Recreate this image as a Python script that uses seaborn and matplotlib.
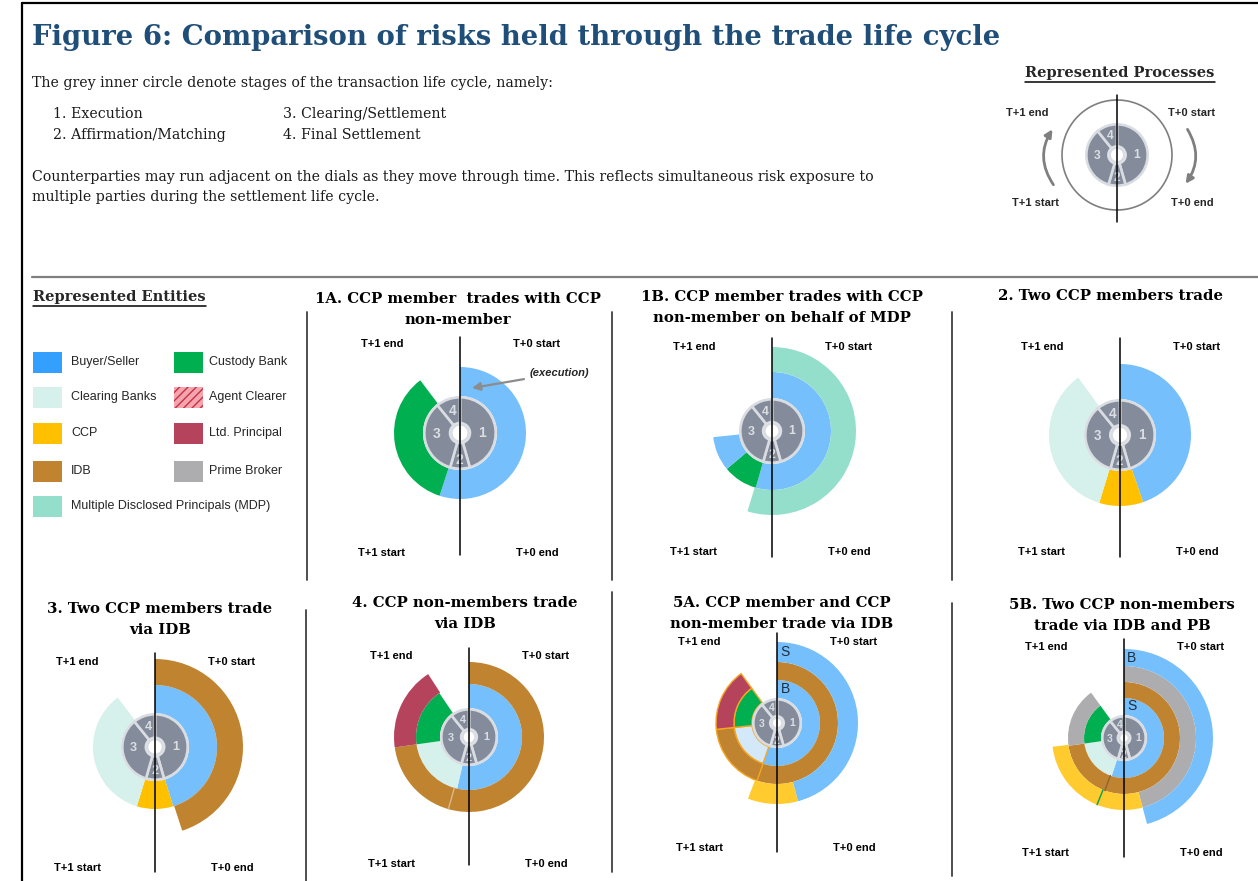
"""
Figure 6 - risk dials through the trade life cycle
"""

import numpy as np
import matplotlib
matplotlib.use('Agg')
import matplotlib.pyplot as plt
from matplotlib.patches import Rectangle, FancyArrowPatch
import seaborn as sns

W, H = 1258, 881

# inner grey dial: stages of the life cycle (degrees clockwise from top)
STAGE_LABELS = ['1', '2', '3', '4']
STAGE_START = [0, 164, 196, 321]
STAGE_END = [164, 196, 321, 360]

LEGEND_ENTITIES = ['Buyer/Seller', 'Custody Bank', 'Clearing Banks', 'Agent Clearer',
                   'CCP', 'Ltd. Principal', 'IDB', 'Prime Broker',
                   'Multiple Disclosed Principals (MDP)']

# each panel: entity, ring (1 = innermost), start / end angle (deg)
P1A_ENTITY = ['Buyer/Seller', 'Custody Bank']
P1A_RING = [1, 1]
P1A_START = [0, 198]
P1A_END = [198, 323]

P1B_ENTITY = ['Buyer/Seller', 'Custody Bank', 'Buyer/Seller', 'MDP']
P1B_RING = [1, 1, 1, 2]
P1B_START = [0, 196, 230, 0]
P1B_END = [196, 230, 264, 197]

P2_ENTITY = ['Buyer/Seller', 'CCP', 'Clearing Banks']
P2_RING = [1, 1, 1]
P2_START = [0, 161, 197]
P2_END = [161, 197, 324]

P3_ENTITY = ['Buyer/Seller', 'CCP', 'Clearing Banks', 'IDB']
P3_RING = [1, 1, 1, 2]
P3_START = [0, 163, 197, 0]
P3_END = [163, 197, 323, 162]

P4_ENTITY = ['Buyer/Seller', 'Clearing Banks', 'Custody Bank', 'IDB', 'IDB', 'Ltd. Principal']
P4_RING = [1, 1, 1, 2, 2, 2]
P4_START = [0, 193, 262, 0, 196, 262]
P4_END = [193, 262, 326, 196, 262, 327]

P5A_ENTITY = ['Buyer/Seller', 'Clearing Banks', 'Custody Bank', 'IDB', 'IDB',
              'Ltd. Principal', 'Buyer/Seller', 'CCP']
P5A_RING = [1, 1, 1, 2, 2, 2, 3, 3]
P5A_START = [0, 199, 264, 0, 199, 264, 0, 165]
P5A_END = [199, 264, 324, 199, 264, 324, 165, 201]

P5B_ENTITY = ['Buyer/Seller', 'Clearing Banks', 'Custody Bank', 'IDB', 'IDB', 'Prime Broker',
              'Prime Broker', 'CCP', 'CCP', 'Buyer/Seller']
P5B_RING = [1, 1, 1, 2, 2, 2, 3, 3, 3, 4]
P5B_START = [0, 198, 262, 0, 200, 262, 0, 165, 202, 0]
P5B_END = [198, 262, 324, 200, 262, 324, 165, 202, 263, 165]

# colours
PALETTE = {
    'Buyer/Seller': '#75BFFD', 'Custody Bank': '#00B050', 'Clearing Banks': '#D6F0EC',
    'Agent Clearer': '#F6A5AE', 'CCP': '#FFC000', 'Ltd. Principal': '#B5435C',
    'IDB': '#C0832F', 'Prime Broker': '#ADADB0', 'MDP': '#93DFCC',
    'Multiple Disclosed Principals (MDP)': '#93DFCC',
}
LEGEND_COLORS = dict(PALETTE, **{'Buyer/Seller': '#33A0FF'})
GREY = '#848C9C'
RIM = '#D9DCE1'
NAVY = '#1F4E79'
SERIF = 'DejaVu Serif'

sns.set_theme(style='white')
plt.rcParams['font.family'] = ['Liberation Sans', 'DejaVu Sans']

fig = plt.figure(figsize=(W / 100, H / 100), dpi=100)
ax = fig.add_axes([0, 0, 1, 1], zorder=10)
ax.set_xlim(0, W)
ax.set_ylim(H, 0)
ax.axis('off')
ax.patch.set_alpha(0)


def dial_axes(cx, cy, size=200):
    rect = [(cx - size / 2) / W, 1 - (cy + size / 2) / H, size / W, size / H]
    pax = fig.add_axes(rect, projection='polar')
    pax.set_theta_zero_location('N')
    pax.set_theta_direction(-1)
    pax.set_ylim(0, size / 2)
    pax.axis('off')
    return pax


def draw_stages(pax, r0):
    hub = 0.27 * r0
    for s, e in zip(STAGE_START, STAGE_END):
        pax.bar(np.deg2rad((s + e) / 2), r0 - 1.3 - hub, width=np.deg2rad(e - s),
                bottom=hub, color=GREY, edgecolor=RIM, linewidth=1.9, zorder=3)
    pax.bar(0, hub, width=2 * np.pi, bottom=0, color='white', linewidth=0, zorder=4)
    pax.bar(0, 2.6, width=2 * np.pi, bottom=hub - 2.6, color=RIM, linewidth=0, zorder=4)
    fs = max(7.5, 0.27 * r0)
    for lab, ang, rf in zip(STAGE_LABELS, [90, 181, 267, 341], [0.6, 0.72, 0.63, 0.62]):
        pax.text(np.deg2rad(ang), rf * r0, lab, color='#DADDE2', fontsize=fs,
                 fontweight='bold', ha='center', va='center', zorder=5)


def draw_rings(pax, edges, entity, ring, start, end, override=None,
               outlined=(), seams=()):
    cols = dict(PALETTE, **(override or {}))
    for i, (ent, rg, s, e) in enumerate(zip(entity, ring, start, end)):
        r_in, r_out = edges[rg - 1], edges[rg]
        ec = '#F5A623' if i in outlined else 'none'
        lw = 1.0 if i in outlined else 0
        pax.bar(np.deg2rad((s + e) / 2), r_out - r_in, width=np.deg2rad(e - s),
                bottom=r_in, color=cols[ent], edgecolor=ec, linewidth=lw, zorder=2)
    for i, c in seams:
        rg = ring[i]
        pax.plot([np.deg2rad(start[i])] * 2, [edges[rg - 1], edges[rg]], color=c,
                 lw=1.0, zorder=2.5)


def time_labels(cx, y_top, y_bot, line_top, line_bot, dx_l=78, dx_r=77):
    ax.plot([cx, cx], [line_top, line_bot], color='black', lw=1.1)
    kw = dict(fontsize=8, fontweight='bold', ha='center', va='center', color='black')
    ax.text(cx - dx_l, y_top, 'T+1 end', **kw)
    ax.text(cx + dx_r, y_top, 'T+0 start', **kw)
    ax.text(cx - dx_l, y_bot, 'T+1 start', **kw)
    ax.text(cx + dx_r, y_bot, 'T+0 end', **kw)


def panel_title(x, y, lines):
    for k, line in enumerate(lines):
        ax.text(x, y + k * 21.5, line, fontsize=10.7, fontweight='bold', family=SERIF,
                ha='center', va='center', color='black')


# ---- frame and header text ----
ax.plot([22, 22], [3, H], color='black', lw=1.6)
ax.plot([22, W], [3, 3], color='black', lw=1.6)
ax.plot([32, W], [277, 277], color='#7F7F7F', lw=1.6)
for x, y0, y1 in [(307, 312, 580), (612, 312, 580), (952, 312, 580),
                  (306, 610, H), (612, 592, 872), (952, 603, 876)]:
    ax.plot([x, x], [y0, y1], color='#404040', lw=1.3)

ax.text(32, 45, 'Figure 6: Comparison of risks held through the trade life cycle',
        fontsize=19.8, fontweight='bold', family=SERIF, color=NAVY, va='baseline')
body = dict(fontsize=10.2, family=SERIF, color='#1A1A1A', va='baseline')
ax.text(32, 87, 'The grey inner circle denote stages of the transaction life cycle, namely:', **body)
ax.text(53, 118, '1. Execution', **body)
ax.text(53, 139, '2. Affirmation/Matching', **body)
ax.text(283, 118, '3. Clearing/Settlement', **body)
ax.text(283, 139, '4. Final Settlement', **body)
ax.text(32, 181, 'Counterparties may run adjacent on the dials as they move through time. '
        'This reflects simultaneous risk exposure to', **body)
ax.text(32, 201, 'multiple parties during the settlement life cycle.', **body)

heads = [ax.text(33, 297, 'Represented Entities', fontsize=10.5, fontweight='bold',
                 family=SERIF, va='center', ha='left'),
         ax.text(1120, 73, 'Represented Processes', fontsize=10.5, fontweight='bold',
                 family=SERIF, va='center', ha='center')]
fig.canvas.draw()
inv = ax.transData.inverted()
for t in heads:
    bb = t.get_window_extent()
    (x0, _), (x1, _) = inv.transform([[bb.x0, bb.y0], [bb.x1, bb.y0]])
    y = t.get_position()[1] + 9
    ax.plot([x0, x1], [y, y], color='black', lw=1.1)

# ---- legend ----
row_y = [362, 397, 433, 471, 506]
for k, ent in enumerate(LEGEND_ENTITIES):
    row, col = k // 2, k % 2
    px = 33 if col == 0 else 174
    tx = 71 if col == 0 else 209
    hatch = '////' if ent == 'Agent Clearer' else None
    ax.add_patch(Rectangle((px, row_y[row] - 10.5), 29, 21, facecolor=LEGEND_COLORS[ent],
                           edgecolor='#C2334A' if hatch else 'none', hatch=hatch, lw=0))
    ax.text(tx, row_y[row], ent, fontsize=9, color='#262626', va='center', ha='left')

# ---- represented processes dial ----
cx, cy = 1117, 155
pax = dial_axes(cx, cy)
draw_stages(pax, 32)
th = np.linspace(0, 2 * np.pi, 300)
pax.plot(th, np.full_like(th, 55), color='#7F7F7F', lw=1.2)
ax.plot([cx, cx], [95, 222], color='black', lw=1.1)
kw = dict(fontsize=8, fontweight='bold', ha='center', va='center')
ax.text(1027, 113, 'T+1 end', **kw)
ax.text(1192, 113, 'T+0 start', **kw)
ax.text(1035, 203, 'T+1 start', **kw)
ax.text(1192, 203, 'T+0 end', **kw)
for a, b, rad in [((1055, 187), (1054, 127), -0.35), ((1186, 127), (1184, 186), -0.35)]:
    ax.add_patch(FancyArrowPatch(a, b, connectionstyle=f'arc3,rad={rad}', arrowstyle='-|>',
                                 mutation_scale=11, color='#7F7F7F', lw=2))

# ---- panels ----
panels = [
    dict(c=(460, 433), edges=[37, 66], data=(P1A_ENTITY, P1A_RING, P1A_START, P1A_END),
         lab=(344, 553, 337, 555), title=(458, 299, ['1A. CCP member  trades with CCP', 'non-member'])),
    dict(c=(772, 431), edges=[33, 59, 84], data=(P1B_ENTITY, P1B_RING, P1B_START, P1B_END),
         lab=(347, 552, 338, 557), title=(782, 297, ['1B. CCP member trades with CCP', 'non-member on behalf of MDP'])),
    dict(c=(1120, 435), edges=[36, 71], data=(P2_ENTITY, P2_RING, P2_START, P2_END),
         lab=(347, 552, 338, 557), title=(1110, 296, ['2. Two CCP members trade'])),
    dict(c=(155, 747), edges=[34, 62, 88], data=(P3_ENTITY, P3_RING, P3_START, P3_END),
         lab=(662, 868, 653, 872), title=(160, 609, ['3. Two CCP members trade', 'via IDB'])),
    dict(c=(469, 737), edges=[29, 53, 75], data=(P4_ENTITY, P4_RING, P4_START, P4_END),
         lab=(656, 864, 648, 865), title=(465, 603, ['4. CCP non-members trade', 'via IDB']),
         seams=[(4, '#D9B98A')]),
    dict(c=(777, 723), edges=[25, 43, 61, 81], data=(P5A_ENTITY, P5A_RING, P5A_START, P5A_END),
         lab=(642, 848, 633, 852), title=(782, 603, ['5A. CCP member and CCP', 'non-member trade via IDB']),
         override={'Clearing Banks': '#D3E8F9', 'CCP': '#FFCB2F'}, outlined=(1, 2, 4, 5),
         tags=(['S', 'B'], [3, 1])),
    dict(c=(1124, 738), edges=[23, 40, 56, 72, 89], data=(P5B_ENTITY, P5B_RING, P5B_START, P5B_END),
         lab=(647, 853, 639, 857), title=(1122, 605, ['5B. Two CCP non-members', 'trade via IDB and PB']),
         override={'CCP': '#FFCB2F'}, seams=[(4, '#8C6433'), (8, '#00A050')],
         tags=(['B', 'S'], [4, 1])),
]

for p in panels:
    cx, cy = p['c']
    pax = dial_axes(cx, cy)
    draw_rings(pax, p['edges'], *p['data'], override=p.get('override'),
               outlined=p.get('outlined', ()), seams=p.get('seams', ()))
    draw_stages(pax, p['edges'][0])
    y_top, y_bot, l_top, l_bot = p['lab']
    time_labels(cx, y_top, y_bot, l_top, l_bot)
    panel_title(*p['title'])
    if 'tags' in p:
        for tag, rg in zip(*p['tags']):
            e = p['edges']
            ax.text(cx + 8, cy - (e[rg - 1] + e[rg]) / 2, tag, fontsize=10,
                    color='#1F2D3D', ha='center', va='center')

# execution annotation in 1A
ax.annotate('(execution)', xy=(472, 388), xytext=(530, 373), fontsize=8, fontweight='bold',
            fontstyle='italic', va='center', ha='left',
            arrowprops=dict(arrowstyle='-|>', color='#8C8C8C', lw=1.6, mutation_scale=12,
                            shrinkA=2, shrinkB=0))

fig.savefig('out.png', dpi=100, facecolor='white')
